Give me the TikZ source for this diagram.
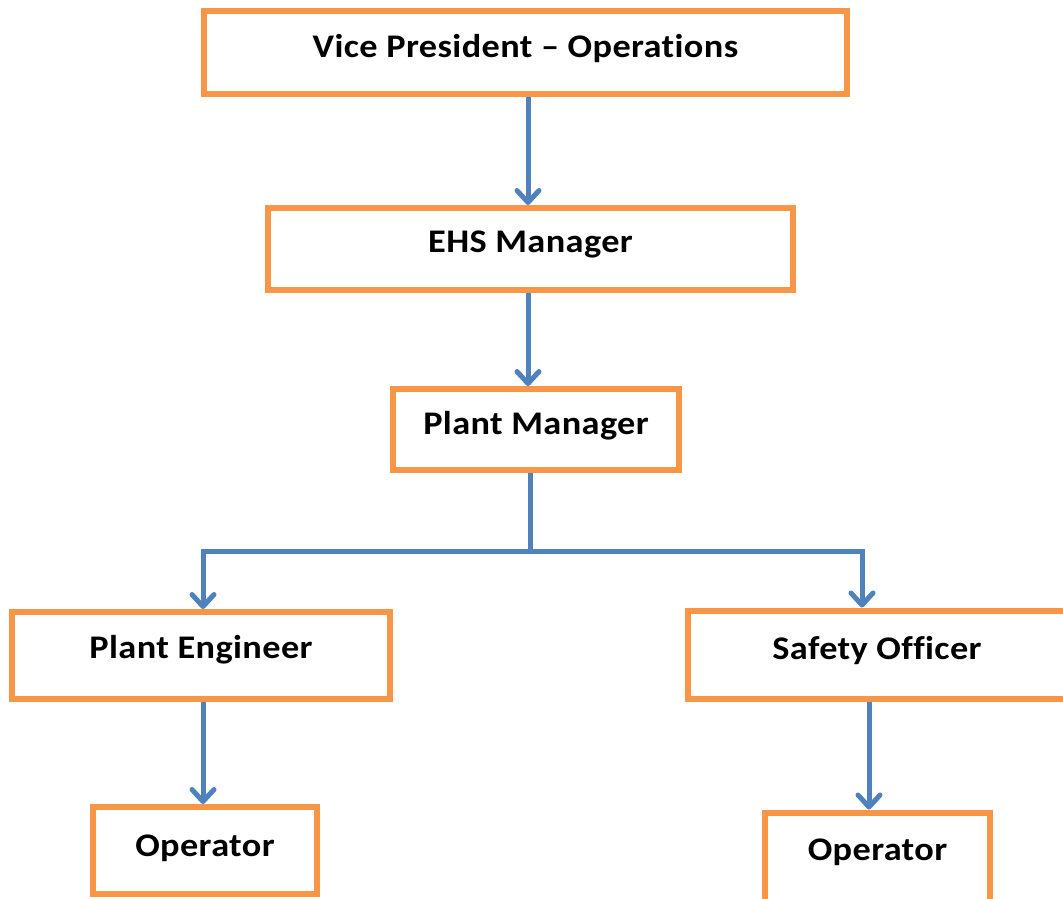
\documentclass[tikz,border=0pt]{standalone}
\usepackage{fontspec}
\setmainfont{Carlito}[Ligatures=NoCommon, FakeStretch=1.1, LetterSpace=1.2]
\usetikzlibrary{arrows.meta}
\definecolor{boxorange}{HTML}{F79646}
\definecolor{linkblue}{HTML}{4F81BD}
\newcommand{\bl}[2]{\raisebox{-#1pt}[0pt][0pt]{#2}}
\tikzset{
  orgbox/.style={draw=boxorange, line width=6pt, fill=white, inner sep=0pt,
    font=\fontsize{33}{38}\selectfont\bfseries, text=black},
  conn/.style={draw=linkblue, line width=5pt},
  arr/.style={conn, -{Straight Barb[length=12pt, width=22pt, line cap=round, line join=round]}},
}
\begin{document}
\begin{tikzpicture}[x=1pt,y=1pt]
\useasboundingbox[fill=white] (0,0) rectangle (1063,-898);
% boxes
\node[orgbox, minimum width=643pt, minimum height=83pt] (vp) at (525.5,-52.5) {\bl{4.5}{Vice President – Operations}};
\node[orgbox, minimum width=525pt, minimum height=82pt] (ehs) at (530.5,-249) {\bl{3}{EHS Manager}};
\node[orgbox, minimum width=286pt, minimum height=81pt] (pm) at (536,-429.5) {\bl{5}{Plant Manager}};
\node[orgbox, minimum width=378pt, minimum height=87pt] (pe) at (201,-655.5) {\bl{3}{Plant Engineer}};
\node[orgbox, minimum width=378pt, minimum height=88pt] (so) at (877,-654.5) {\bl{4.5}{Safety Officer}};
\node[orgbox, minimum width=224pt, minimum height=87pt] (opl) at (205,-850.5) {\bl{5.5}{Operator}};
\node[orgbox, minimum width=225pt, minimum height=89pt] (opr) at (877.5,-857) {\bl{3}{Operator}};
% connectors
\draw[arr] ([xshift=2.5pt]vp.south) -- ([xshift=2.5pt]vp.south |- ehs.north);
\draw[arr] ([xshift=-2.5pt]ehs.south) -- ([xshift=-2.5pt]ehs.south |- pm.north);
\coordinate (j) at (530,-551);
\draw[conn] (j |- pm.south) -- (j);
\draw[arr] ([xshift=2.5pt]j) -| ([xshift=2pt]pe.north);
\draw[arr] ([xshift=-2.5pt]j) -| ([xshift=-15pt]so.north);
\draw[arr] ([xshift=2pt]pe.south) -- ([xshift=2pt]pe.south |- opl.north);
\draw[arr] ([xshift=-8pt]so.south) -- ([xshift=-8pt]so.south |- opr.north);
\end{tikzpicture}
\end{document}
